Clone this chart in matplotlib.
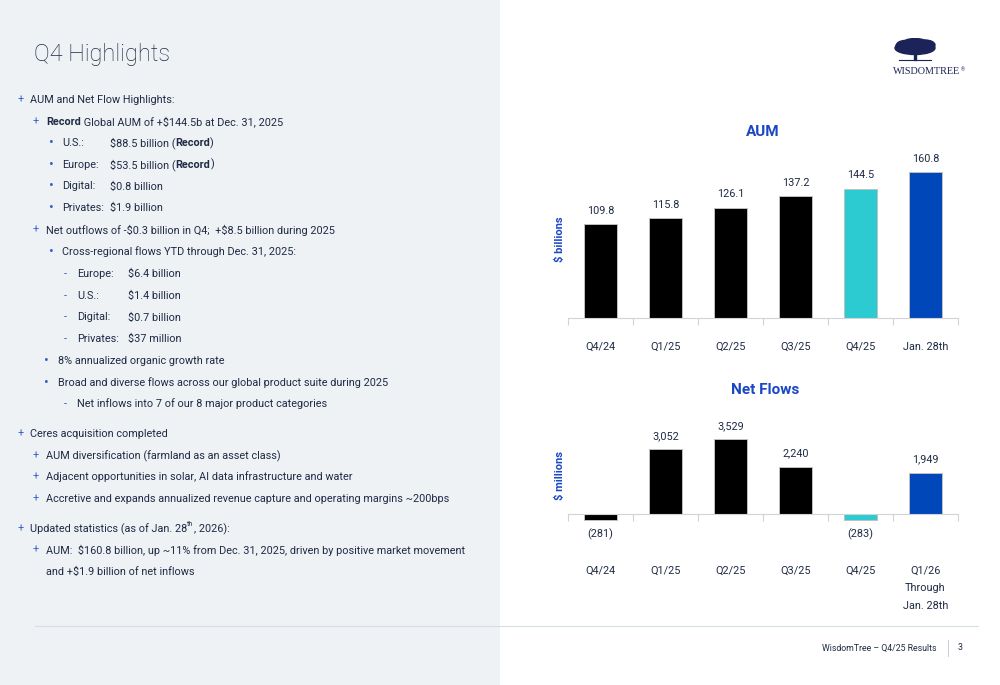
import numpy as np
import matplotlib.pyplot as plt
from matplotlib.patches import Rectangle, Ellipse

plt.rcParams['font.family'] = ['Roboto', 'DejaVu Sans']
plt.rcParams['text.parse_math'] = False

W, H = 1000, 685
NAVY = '#1f2a44'
BLUE_TXT = '#1a47c4'
BULLET = '#2f5fd0'

aum_labels = ['Q4/24', 'Q1/25', 'Q2/25', 'Q3/25', 'Q4/25', 'Jan. 28th']
aum_values = [109.8, 115.8, 126.1, 137.2, 144.5, 160.8]
flow_labels = ['Q4/24', 'Q1/25', 'Q2/25', 'Q3/25', 'Q4/25', 'Q1/26\nThrough\nJan. 28th']
flow_values = [-281, 3052, 3529, 2240, -283, 1949]
bar_colors = ['#000000', '#000000', '#000000', '#000000', '#2ccbd2', '#0047ba']

fig = plt.figure(figsize=(W / 100, H / 100), dpi=100)
renderer = fig.canvas.get_renderer()

# left grey panel
fig.patches.append(Rectangle((0, 0), 0.5, 1, transform=fig.transFigure,
                             facecolor='#eef2f5', edgecolor='none', zorder=0))

FS = 7.8


def fx(x):
    return x / W


def fy(y):
    return 1 - y / H


def runs(x, y, parts, size=FS):
    # draw a line made of several pieces (normal / bold / superscript)
    for txt, weight, rel, dy in parts:
        t = fig.text(fx(x), fy(y - dy), txt, fontsize=size * rel, fontweight=weight,
                     color=NAVY, va='center', ha='left')
        x += t.get_window_extent(renderer).width
    return x


def bullet(x, y, sym):
    size = 10 if sym == '•' else FS
    fig.text(fx(x), fy(y), sym, fontsize=size, color=BULLET, va='center', ha='left')


fig.text(fx(34), fy(55), 'Q4 Highlights', fontsize=17, fontweight='light',
         color=NAVY, va='center', ha='left')

N = 'normal'
B = 'bold'

bullet(18, 100, '+'); runs(30, 100, [('AUM and Net Flow Highlights:', N, 1, 0)])
bullet(33, 122, '+'); runs(46, 122, [('Record', B, 1, 0), (' Global AUM of +$144.5b at Dec. 31, 2025', N, 1, 0)])

regions = [('U.S.:', '$88.5 billion (', True), ('Europe:', '$53.5 billion (', True),
           ('Digital:', '$0.8 billion', False), ('Privates:', '$1.9 billion', False)]
for i, (lab, val, rec) in enumerate(regions):
    yy = 143 + i * 21.7
    bullet(49, yy, '•')
    runs(62, yy, [(lab, N, 1, 0)])
    if rec:
        runs(110, yy, [(val, N, 1, 0), ('Record', B, 1, 0), (')', N, 1, 0)])
    else:
        runs(110, yy, [(val, N, 1, 0)])

bullet(33, 230, '+'); runs(46, 230, [('Net outflows of -$0.3 billion in Q4;  +$8.5 billion during 2025', N, 1, 0)])
bullet(49, 252, '•'); runs(62, 252, [('Cross-regional flows YTD through Dec. 31, 2025:', N, 1, 0)])

ytd = [('Europe:', '$6.4 billion'), ('U.S.:', '$1.4 billion'),
       ('Digital:', '$0.7 billion'), ('Privates:', '$37 million')]
for i, (lab, val) in enumerate(ytd):
    yy = 274 + i * 21.7
    bullet(64, yy, '-')
    runs(77, yy, [(lab, N, 1, 0)])
    runs(128, yy, [(val, N, 1, 0)])

bullet(44, 361, '•'); runs(58, 361, [('8% annualized organic growth rate', N, 1, 0)])
bullet(44, 383, '•'); runs(58, 383, [('Broad and diverse flows across our global product suite during 2025', N, 1, 0)])
bullet(64, 404, '-'); runs(77, 404, [('Net inflows into 7 of our 8 major product categories', N, 1, 0)])

bullet(18, 434, '+'); runs(30, 434, [('Ceres acquisition completed', N, 1, 0)])
bullet(33, 456, '+'); runs(46, 456, [('AUM diversification (farmland as an asset class)', N, 1, 0)])
bullet(33, 477, '+'); runs(46, 477, [('Adjacent opportunities in solar, AI data infrastructure and water', N, 1, 0)])
bullet(33, 499, '+'); runs(46, 499, [('Accretive and expands annualized revenue capture and operating margins ~200bps', N, 1, 0)])

bullet(18, 529, '+'); runs(30, 529, [('Updated statistics (as of Jan. 28', N, 1, 0), ('th', N, 0.65, 4),
                                     (', 2026):', N, 1, 0)])
bullet(33, 550, '+'); runs(46, 550, [('AUM:  $160.8 billion, up ~11% from Dec. 31, 2025, driven by positive market movement', N, 1, 0)])
runs(46, 572, [('and +$1.9 billion of net inflows', N, 1, 0)])

# logo
logo = fig.add_axes([fx(885), fy(68), fx(70), 30 / H])
logo.set_xlim(0, 70)
logo.set_ylim(0, 30)
logo.axis('off')
for cx, cy, w, h in [(30, 20, 40, 13), (20, 22, 18, 11), (40, 23, 20, 10), (30, 25, 24, 9)]:
    logo.add_patch(Ellipse((cx, cy), w, h, color='#1b2359'))
logo.add_patch(Rectangle((28.8, 8), 2.4, 8, color='#1b2359'))
logo.plot([14, 46], [8, 8], color='#1b2359', lw=0.8)
t_logo = fig.text(fx(893), fy(72), 'WISDOMTREE', fontsize=7.3, color='#1b2359',
                  family='Liberation Serif', va='center', ha='left')
x_end = 893 + t_logo.get_window_extent(renderer).width
fig.text(fx(x_end + 1), fy(70), '®', fontsize=3.5, color='#1b2359', va='center', ha='left')


def px_axes(x0, y0, x1, y1):
    return fig.add_axes([fx(x0), fy(y1), (x1 - x0) / W, (y1 - y0) / H])


def style_axes(ax, labels, pad):
    x = np.arange(len(labels))
    ax.set_xlim(-0.5, len(labels) - 0.5)
    ax.set_xticks(np.arange(-0.5, len(labels), 1))
    ax.set_xticklabels([])
    ax.set_xticks(x, minor=True)
    ax.set_xticklabels(labels, minor=True, fontsize=FS, color=NAVY, linespacing=2.0)
    ax.tick_params(axis='x', which='major', length=5, color='#cfd4da', width=0.8)
    ax.tick_params(axis='x', which='minor', length=0, pad=pad)
    ax.set_yticks([])
    for s in ['top', 'right', 'left']:
        ax.spines[s].set_visible(False)
    ax.spines['bottom'].set_color('#cfd4da')
    ax.spines['bottom'].set_linewidth(0.8)
    ax.set_facecolor('none')


# AUM chart
ax1 = px_axes(568, 160, 958, 318)
x = np.arange(len(aum_labels))
ax1.bar(x, aum_values, width=0.5, color=bar_colors, edgecolor='#c0c0c0', linewidth=0.7)
ax1.set_ylim(18.7, 172.5)
style_axes(ax1, aum_labels, 17)
for xi, v in zip(x, aum_values):
    ax1.annotate(f'{v:.1f}', (xi, v), xytext=(0, 6), textcoords='offset points',
                 ha='center', va='bottom', fontsize=FS, color=NAVY)
ax1.set_ylabel('$ billions', fontsize=8, fontweight='bold', color=BLUE_TXT, labelpad=2)
fig.text(fx(763), fy(132), 'AUM', fontsize=11, fontweight='bold', color=BLUE_TXT,
         ha='center', va='center')

# Net flows chart
ax2 = px_axes(568, 420, 958, 530)
ax2.spines['bottom'].set_position(('data', 0))
x = np.arange(len(flow_labels))
ax2.bar(x, flow_values, width=0.5, color=bar_colors, edgecolor='#c0c0c0', linewidth=0.7)
ax2.set_ylim(-16 / 0.0212, (514 - 420) / 0.0212)
style_axes(ax2, flow_labels, 37)
for xi, v in zip(x, flow_values):
    txt = f'{v:,}' if v >= 0 else f'({-v:,})'
    ax2.annotate(txt, (xi, v), xytext=(0, 6 if v >= 0 else -6), textcoords='offset points',
                 ha='center', va='bottom' if v >= 0 else 'top', fontsize=FS, color=NAVY)
ax2.set_ylabel('$ millions', fontsize=8, fontweight='bold', color=BLUE_TXT, labelpad=2)
fig.text(fx(765), fy(390), 'Net Flows', fontsize=11, fontweight='bold', color=BLUE_TXT,
         ha='center', va='center')

# footer
fig.add_artist(plt.Line2D([fx(35), fx(978)], [fy(626), fy(626)], color='#d8dee6', lw=0.8))
fig.text(fx(937), fy(648), 'WisdomTree – Q4/25 Results', fontsize=6.3, color=NAVY,
         ha='right', va='center')
fig.add_artist(plt.Line2D([fx(948), fx(948)], [fy(640), fy(656)], color='#c8ced6', lw=0.7))
fig.text(fx(960), fy(648), '3', fontsize=6.3, color=NAVY, ha='center', va='center')

fig.savefig('out.png', dpi=100)
